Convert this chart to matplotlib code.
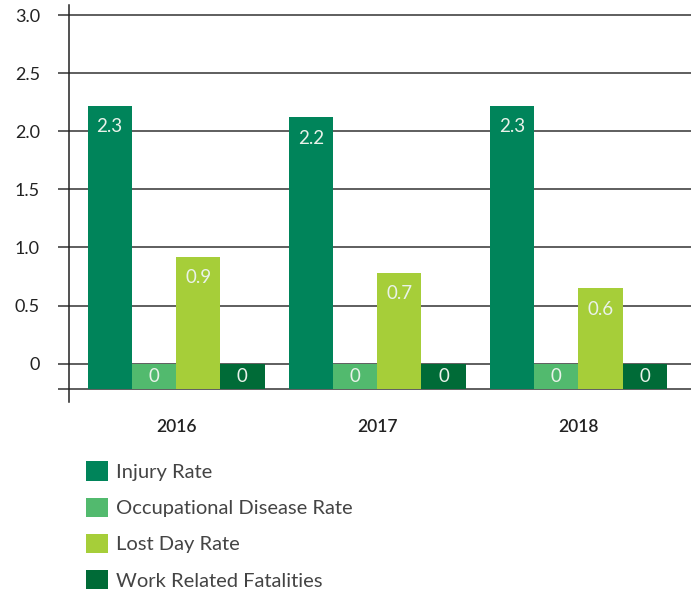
import matplotlib.pyplot as plt
import numpy as np

plt.rcParams['font.family'] = ['Lato', 'DejaVu Sans']

# data
years = ['2016', '2017', '2018']
series = ['Injury Rate', 'Occupational Disease Rate', 'Lost Day Rate', 'Work Related Fatalities']
injury = [2.22, 2.12, 2.22]
disease = [0, 0, 0]
lost_day = [0.92, 0.78, 0.65]
fatalities = [0, 0, 0]
# printed labels on the bars
injury_lbl = ['2.3', '2.2', '2.3']
disease_lbl = ['0', '0', '0']
lost_day_lbl = ['0.9', '0.7', '0.6']
fatalities_lbl = ['0', '0', '0']

colors = ['#00845A', '#52BA6E', '#A6CE39', '#006B37']
base = -0.22

fig = plt.figure(figsize=(6.91, 5.9), dpi=100)
ax = fig.add_axes([0.0999, 0.3186, 0.9001, 0.6729])

x = np.arange(len(years))
w = 0.22
values = [injury, disease, lost_day, fatalities]
labels = [injury_lbl, disease_lbl, lost_day_lbl, fatalities_lbl]

# grid lines behind the bars
yt = [base, 0, 0.5, 1.0, 1.5, 2.0, 2.5, 3.0]
for t in yt:
    ax.axhline(t, color='#333333', lw=1.1, zorder=0)

handles = []
for i, (vals, lbls) in enumerate(zip(values, labels)):
    pos = x + (i - 1.5) * w
    h = np.array(vals) - base
    b = ax.bar(pos, h, w, bottom=base, color=colors[i], label=series[i], zorder=2)
    handles.append(b)
    for p, v, s in zip(pos, vals, lbls):
        if v > 0.3:
            ty = v - 0.18
        else:
            ty = (v + base) / 2
        ax.text(p, ty, s, ha='center', va='center', color='#EAF2EA',
                fontsize=13.5, zorder=3)

ax.set_xlim(-0.532, 2.56)
ax.set_ylim(-0.33, 3.086)

ax.set_yticks(yt)
ax.set_yticklabels(['', '0', '0.5', '1.0', '1.5', '2.0', '2.5', '3.0'],
                   fontsize=13, color='#222222')
ax.tick_params(axis='y', length=8, width=1.1, color='#333333', pad=13)
ax.set_xticks(x)
ax.set_xticklabels(years, fontsize=12.5, color='#222222', fontweight='semibold')
ax.tick_params(axis='x', length=0, pad=12)

for s in ['top', 'right', 'bottom']:
    ax.spines[s].set_visible(False)
ax.spines['left'].set_color('#222222')
ax.spines['left'].set_linewidth(1.1)

leg = fig.legend(handles=handles, loc='upper left', bbox_to_anchor=(0.1245, 0.218),
                 frameon=False, fontsize=14.5, handlelength=1.1, handleheight=1.1,
                 handletextpad=0.4, labelspacing=0.83, borderpad=0, borderaxespad=0)
for t in leg.get_texts():
    t.set_color('#444444')

fig.savefig('out.png', dpi=100)
